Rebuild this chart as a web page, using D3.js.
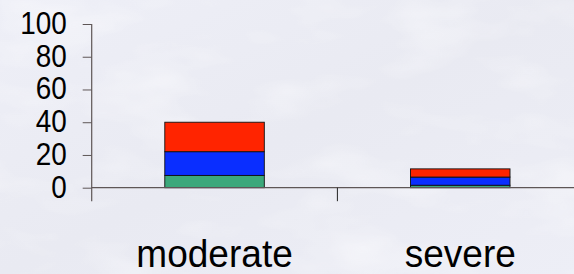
<!DOCTYPE html>
<meta charset="utf-8">
<style>
body { margin: 0; overflow: hidden; }
svg { display: block; font-family: "Liberation Sans", Arial, sans-serif; }
.tick text { fill: #000; }
</style>
<body>
<svg id="chart" width="574" height="274"></svg>
<script src="https://d3js.org/d3.v7.min.js"></script>
<script>

var categories = ["moderate", "severe"];
var seriesKeys = ["bottom", "middle", "top"];
var bottomValues = [7.5, 1.5];
var middleValues = [14.5, 5];
var topValues = [18, 5];
var yTicks = [0, 20, 40, 60, 80, 100];
var colors = ["#3ca87b", "#0a2eff", "#ff2400"];

var width = 574, height = 274;
var left = 91.7, bandW = 245.7;

var svg = d3.select("#chart");

// textured background, roughly like the slide image
var defs = svg.append("defs");
var grad = defs.append("linearGradient").attr("id", "bg").attr("x1", 0).attr("y1", 0).attr("x2", 1).attr("y2", 1);
grad.append("stop").attr("offset", "0%").attr("stop-color", "#eeeff7");
grad.append("stop").attr("offset", "50%").attr("stop-color", "#e9eaf2");
grad.append("stop").attr("offset", "100%").attr("stop-color", "#edeef6");
var filt = defs.append("filter").attr("id", "tex").attr("x", 0).attr("y", 0).attr("width", "100%").attr("height", "100%");
filt.append("feTurbulence").attr("type", "fractalNoise").attr("baseFrequency", "0.01 0.025").attr("numOctaves", 3).attr("seed", 4);
filt.append("feColorMatrix").attr("type", "matrix")
    .attr("values", "0 0 0 0 1  0 0 0 0 1  0 0 0 0 1  0 0 0 -1.6 0.85");
svg.append("rect").attr("width", width).attr("height", height).attr("fill", "url(#bg)");
svg.append("rect").attr("width", width).attr("height", height).attr("filter", "url(#tex)").attr("opacity", 0.6);

var rows = categories.map(function(c, i) {
  return {cat: c, bottom: bottomValues[i], middle: middleValues[i], top: topValues[i]};
});

var x = d3.scaleBand().domain(categories).range([left, left + bandW * categories.length]);
var y = d3.scaleLinear().domain([0, 100]).range([187.7, 24]);

var stack = d3.stack().keys(seriesKeys)(rows);

var barW = bandW * 0.405;
svg.append("g").selectAll("g")
  .data(stack).enter().append("g")
  .attr("fill", function(d, i) { return colors[i]; })
  .selectAll("rect")
  .data(function(d) { return d; }).enter().append("rect")
  .attr("x", function(d) { return x(d.data.cat) + (bandW - barW) / 2; })
  .attr("y", function(d) { return y(d[1]); })
  .attr("width", barW)
  .attr("height", function(d) { return y(d[0]) - y(d[1]); })
  .attr("stroke", "#111")
  .attr("stroke-width", 0.9);

var axisColor = "#5e5656";

// y axis
var yAxis = d3.axisLeft(y).tickValues(yTicks).tickSize(9).tickPadding(16);
var gy = svg.append("g").attr("transform", "translate(" + left + ",0)").call(yAxis);
gy.select(".domain").remove();
gy.selectAll(".tick line").attr("stroke", axisColor);
gy.selectAll(".tick text")
  .attr("x", 0)
  .attr("transform", "translate(-25,0) scale(0.9,1)")
  .style("font-size", "31px")
  .attr("dy", "0.3em");
svg.append("line")
  .attr("x1", left).attr("x2", left)
  .attr("y1", y(100)).attr("y2", y(0) + 13.5)
  .attr("stroke", axisColor).attr("stroke-width", 1.2);

// x axis
svg.append("line")
  .attr("x1", left).attr("x2", width)
  .attr("y1", y(0)).attr("y2", y(0))
  .attr("stroke", axisColor).attr("stroke-width", 1.2);
svg.append("g").selectAll("line")
  .data(categories.slice(1)).enter().append("line")
  .attr("x1", function(d) { return x(d); }).attr("x2", function(d) { return x(d); })
  .attr("y1", y(0)).attr("y2", y(0) + 13.5)
  .attr("stroke", "#222").attr("stroke-width", 1);

svg.append("g").selectAll("text")
  .data(categories).enter().append("text")
  .attr("transform", function(d) { return "translate(" + (x(d) + bandW / 2) + ",266.5) scale(0.95,1)"; })
  .attr("text-anchor", "middle")
  .style("font-size", "39px")
  .attr("fill", "#000")
  .text(function(d) { return d; });

</script>
</body>
